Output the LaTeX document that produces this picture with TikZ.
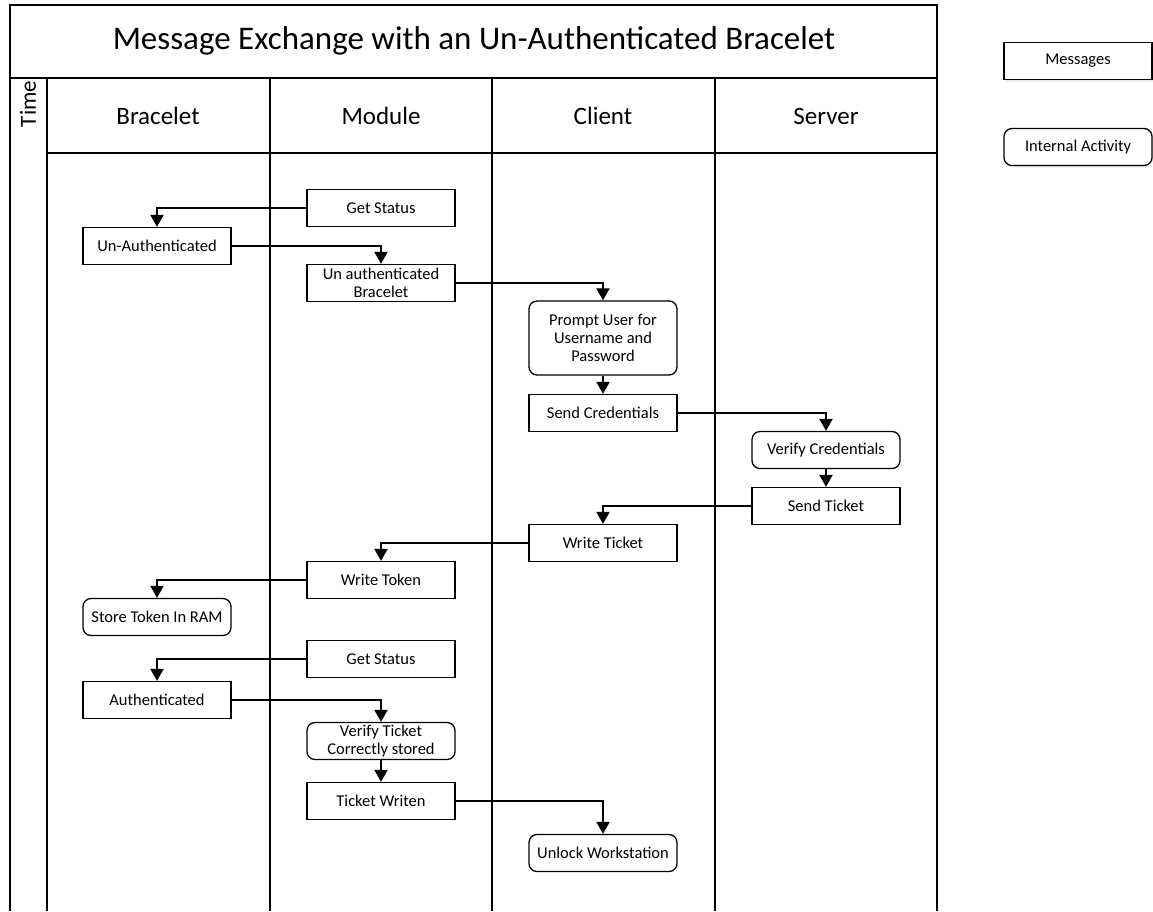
\documentclass[tikz,border=0pt]{standalone}
\usepackage{fontspec}
\setmainfont{Carlito}
\usetikzlibrary{arrows.meta,shadows}
\begin{document}
\begin{tikzpicture}[x=1pt,y=-1pt,
  msg/.style={draw,line width=1.3pt,minimum width=148pt,minimum height=37pt,inner sep=1pt,align=center,font=\fontsize{16.5}{18}\selectfont},
  act/.style={msg,rounded corners=8pt},
  key/.style={drop shadow={opacity=0.15,shadow xshift=1pt,shadow yshift=-2pt},fill=white},
  head/.style={anchor=base,font=\fontsize{25}{27}\selectfont},
  flow/.style={line width=2pt,-{Triangle[width=13pt,length=12pt]}},
  lane/.style={line width=2pt}]
\useasboundingbox (0,0) rectangle (1153,911);
% swimlane frame
\draw[lane] (10,911) -- (10,5) -- (937,5) -- (937,911);
\draw[lane] (10,78) -- (937,78);
\draw[lane] (47,153) -- (937,153);
\foreach \x in {47,270,492,715} \draw[lane] (\x,78) -- (\x,911);
\node (title) at (474,41) {\fontsize{33}{36}\selectfont Message Exchange with an Un-Authenticated Bracelet};
\node[rotate=90,font=\fontsize{23}{25}\selectfont] (time) at (28,104) {Time};
\node[head] (bracelet) at (158,124) {Bracelet};
\node[head] (module) at (381,124) {Module};
\node[head] (client) at (603,124) {Client};
\node[head] (server) at (826,124) {Server};
% legend
\node[msg,key] (legmsg) at (1078,61) {Messages};
\node[act,key] (legact) at (1078,147) {Internal Activity};
% steps
\node[msg] (status1) at (381,208) {Get Status};
\node[msg] (unauth) at (157,246) {Un-Authenticated};
\node[msg] (unbrace) at (381,283) {Un authenticated\\Bracelet};
\node[act,minimum height=74pt] (prompt) at (603,338) {Prompt User for\\Username and\\Password};
\node[msg] (creds) at (603,413) {Send Credentials};
\node[act] (verify) at (826,450) {Verify Credentials};
\node[msg] (ticket) at (826,506) {Send Ticket};
\node[msg] (wticket) at (603,543) {Write Ticket};
\node[msg] (wtoken) at (381,580) {Write Token};
\node[act] (store) at (157,617) {Store Token In RAM};
\node[msg] (status2) at (381,659) {Get Status};
\node[msg] (auth) at (157,700) {Authenticated};
\node[act] (vticket) at (381,741) {Verify Ticket\\Correctly stored};
\node[msg] (written) at (381,801) {Ticket Writen};
\node[act] (unlock) at (603,853) {Unlock Workstation};
% messages
\draw[flow] (status1.west) -| (unauth.north);
\draw[flow] (unauth.east) -| (unbrace.north);
\draw[flow] (unbrace.east) -| (prompt.north);
\draw[flow] (prompt) -- (creds);
\draw[flow] (creds.east) -| (verify.north);
\draw[flow] (verify) -- (ticket);
\draw[flow] (ticket.west) -| (wticket.north);
\draw[flow] (wticket.west) -| (wtoken.north);
\draw[flow] (wtoken.west) -| (store.north);
\draw[flow] (status2.west) -| (auth.north);
\draw[flow] (auth.east) -| (vticket.north);
\draw[flow] (vticket) -- (written);
\draw[flow] (written.east) -| (unlock.north);
\end{tikzpicture}
\end{document}
